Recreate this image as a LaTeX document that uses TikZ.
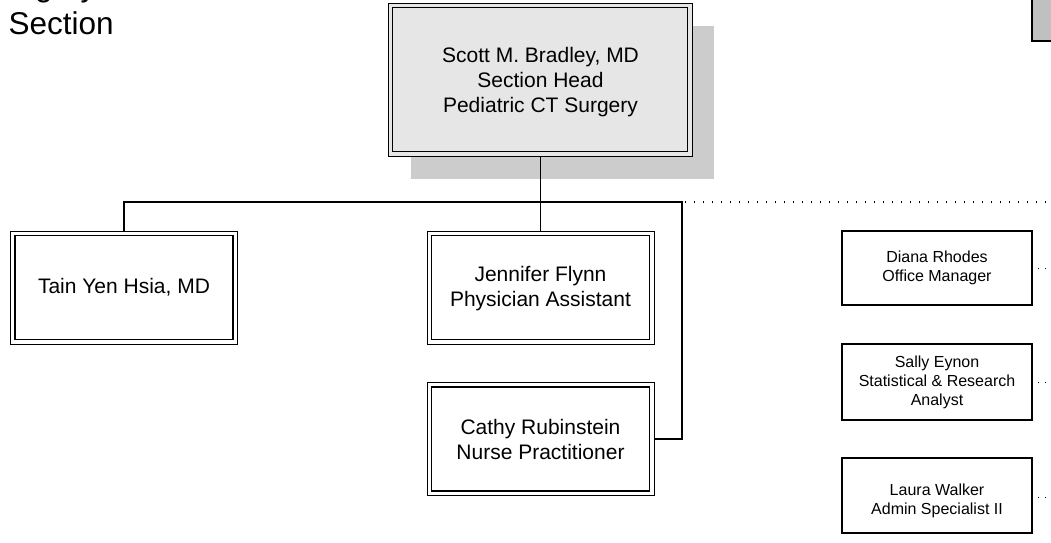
\documentclass[tikz,border=0pt]{standalone}
\usepackage{fontspec}
\setmainfont{Liberation Sans}
\definecolor{shadowgray}{HTML}{CCCCCC}
\definecolor{boxgray}{HTML}{E6E6E6}
\definecolor{topgray}{HTML}{C0C0C0}
\newcommand\innerframe[1]{\draw[line width=1.8pt] ([shift={(4.5pt,-4.5pt)}]#1.north west) rectangle ([shift={(-4.5pt,4.5pt)}]#1.south east);}
\begin{document}
\begin{tikzpicture}[x=1pt,y=-1pt,
  bigbox/.style={draw=black,line width=1pt,fill=white,minimum width=227pt,minimum height=113pt,inner sep=0pt,outer sep=0pt,align=center,font=\fontsize{21}{25}\selectfont},
  smallbox/.style={draw=black,line width=1.3pt,minimum width=190pt,inner sep=0pt,outer sep=0pt,align=center,font=\fontsize{16}{19}\selectfont},
  plaintext/.style={inner sep=0pt,align=center},
  conn/.style={line width=1.6pt},
  dots/.style={line width=1.4pt,dash pattern=on 1.4pt off 7.6pt}]
\useasboundingbox (0,0) rectangle (1051,542);

% title (partly cut off at the top edge, as in the reference)
\node[anchor=base west,inner sep=0pt,font=\fontsize{31.5}{36}\selectfont] (title2) at (-14,-4) {Surgery};
\node[anchor=base west,inner sep=0pt,font=\fontsize{31.5}{36}\selectfont] (title) at (8.5,34) {Section};

% top-right cut-off box
\node[draw=black,line width=2pt,fill=topgray,minimum width=40pt,minimum height=60pt,anchor=south west,inner sep=0pt] (tr) at (1031,42) {};

% head box with shadow
\fill[shadowgray] (411,26) rectangle (714,179);
\node[bigbox,fill=boxgray,minimum width=304pt,minimum height=153pt] (scott) at (540,79.5) {};
\innerframe{scott}
\node[plaintext,font=\fontsize{21}{25}\selectfont] (scottt) at (540.5,82.5)
  {Scott M. Bradley, MD\\Section Head\\Pediatric CT Surgery};

\node[bigbox] (tain) at (124,287.5) {Tain Yen Hsia, MD};
\innerframe{tain}
\node[bigbox] (jen) at (540.5,287.5) {};
\innerframe{jen}
\node[plaintext,font=\fontsize{21}{25}\selectfont] (jent) at (540.5,289) {Jennifer Flynn\\Physician Assistant};
\node[bigbox] (cathy) at (540.5,439) {Cathy Rubinstein\\Nurse Practitioner};
\innerframe{cathy}

\node[smallbox,minimum height=74pt] (diana) at (937,268) {Diana Rhodes\\Office Manager};
\node[smallbox,minimum height=76pt] (sally) at (937,382) {Sally Eynon\\Statistical \& Research\\Analyst};
\node[smallbox,minimum height=75pt] (laura) at (937,495.5) {};
\node[plaintext,font=\fontsize{16}{19}\selectfont] (laurat) at (937,500.5) {Laura Walker\\Admin Specialist II};

% connectors
\coordinate (bus) at (540.5,202);
\coordinate (busL) at (124,202);
\coordinate (busR) at (682,202);
\coordinate (edgeR) at (1051,202);
\draw[conn] (scott.south -| bus) -- (bus);
\draw[conn] (tain.north) -- (busL) -- (busR) -- (busR |- cathy.east) -- (cathy.east);
\draw[line width=1.1pt] (bus) -- (jen.north);
\draw[dots] ([xshift=3pt]busR) -- (edgeR);

\coordinate (dR) at (1051,268);
\coordinate (sR) at (1051,382);
\coordinate (lR) at (1051,497);
\draw[line width=1pt,dash pattern=on 1pt off 6pt] ([xshift=6pt]diana.east) -- (dR);
\draw[line width=1pt,dash pattern=on 1pt off 6pt] ([xshift=6pt]sally.east) -- (sR);
\draw[line width=1pt,dash pattern=on 1pt off 6pt] ([xshift=6pt,yshift=-1.5pt]laura.east) -- (lR);
\end{tikzpicture}
\end{document}
